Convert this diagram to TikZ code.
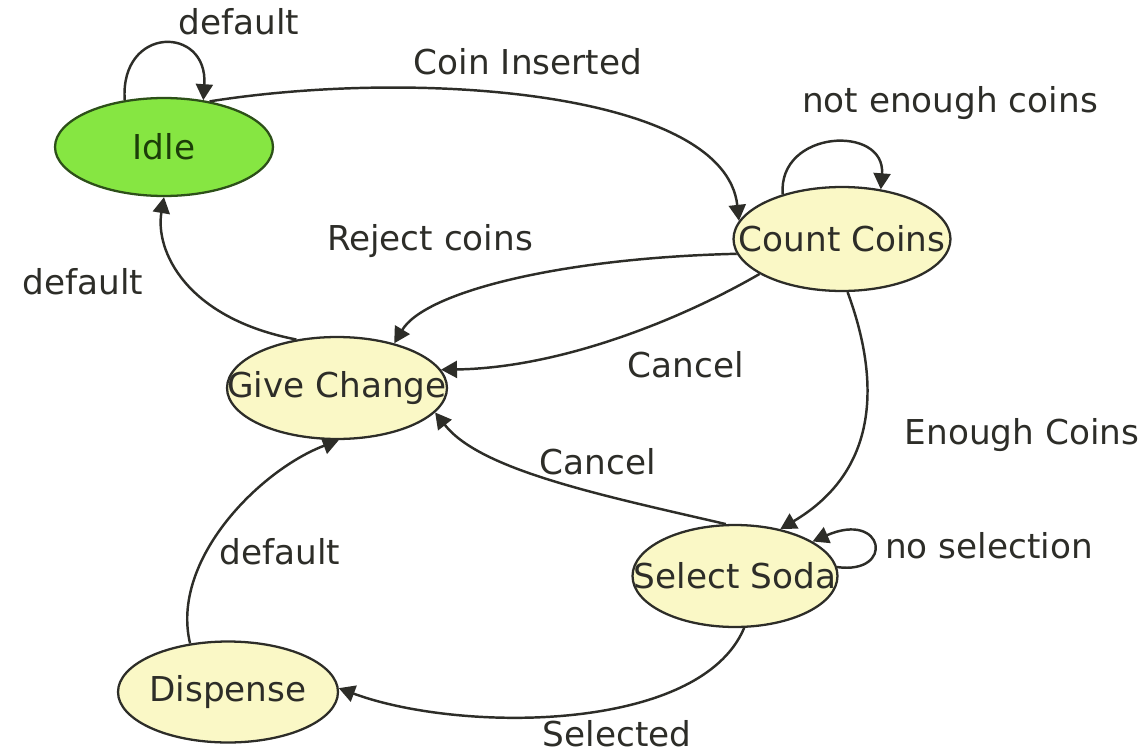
\documentclass[tikz,border=0pt]{standalone}
\usepackage{fontspec}
\setmainfont{DejaVu Sans}
\usetikzlibrary{shapes.geometric,arrows.meta}

\definecolor{idlegreen}{RGB}{134,230,66}
\definecolor{idleedge}{RGB}{45,80,25}
\definecolor{idletext}{RGB}{28,62,8}
\definecolor{statefill}{RGB}{250,248,198}
\definecolor{inkgray}{RGB}{45,45,40}

\begin{document}
\begin{tikzpicture}
  [x=0.02cm,y=-0.02cm,
   every node/.style={font=\fontsize{19.5}{23}\selectfont,text=inkgray},
   state/.style={ellipse,draw=inkgray,line width=1.3pt,fill=statefill,inner sep=0pt},
   lbl/.style={inner sep=0pt},
   arr/.style={-{Triangle[length=0.32cm,width=0.34cm]},line width=1.4pt,draw=inkgray}]
  \useasboundingbox (0,0) rectangle (1147,754);
  % states
  \node[state,fill=idlegreen,draw=idleedge,text=idletext,minimum width=4.36cm,minimum height=1.96cm] (idle) at (164,147) {\makebox[0pt]{Idle}};
  \node[state,minimum width=4.34cm,minimum height=2.08cm] (cc) at (842,239) {\makebox[0pt]{Count Coins}};
  \node[state,minimum width=4.4cm,minimum height=2.04cm] (gc) at (337,388) {\makebox[0pt]{Give Change}};
  \node[state,minimum width=4.1cm,minimum height=2.04cm] (ss) at (735,576) {\makebox[0pt]{Select Soda}};
  \node[state,minimum width=4.4cm,minimum height=2.02cm] (disp) at (228,692) {\makebox[0pt]{Dispense}};
  % transitions
  \draw[arr] (idle.130) .. controls +(-5,-75) and +(5,-75) .. (idle.50);
  \draw[arr] (idle.45) .. controls (420,68) and (725,92) .. (cc.170);
  \draw[arr] (cc.143) .. controls +(-5,-65) and +(5,-65) .. (cc.52);
  \draw[arr] (cc.188) .. controls (560,258) and (425,292) .. (gc.38);
  \draw[arr] (cc.203) .. controls (680,320) and (560,368) .. (gc.10);
  \draw[arr] (cc.-84) .. controls (880,380) and (880,470) .. (ss.46);
  \draw[arr] (ss.100) .. controls (600,495) and (480,470) .. (gc.-14);
  \draw[arr] (ss.5) .. controls (895,575) and (885,510) .. (ss.24);
  \draw[arr] (ss.-80) .. controls (700,733) and (460,733) .. (disp.2);
  \draw[arr] (disp.128) .. controls (170,560) and (260,470) .. (gc.-88);
  \draw[arr] (gc.130) .. controls (185,318) and (155,250) .. (idle.-90);
  % labels
  \node[lbl] (ldefidle) at (239,22) {default};
  \node[lbl] (lcoin) at (528,62) {Coin Inserted};
  \node[lbl] (lnotenough) at (950,103) {not enough coins};
  \node[lbl] (lreject) at (430,241) {Reject coins};
  \node[lbl] (ldefgc) at (83,282) {default};
  \node[lbl] (lcancelcc) at (686,365) {Cancel};
  \node[lbl] (lenough) at (1022,435) {Enough Coins};
  \node[lbl] (lcancelss) at (598,462) {Cancel};
  \node[lbl] (ldefdisp) at (280,552) {default};
  \node[lbl] (lnosel) at (989,546) {no selection};
  \node[lbl] (lselected) at (617,734) {Selected};
\end{tikzpicture}
\end{document}
